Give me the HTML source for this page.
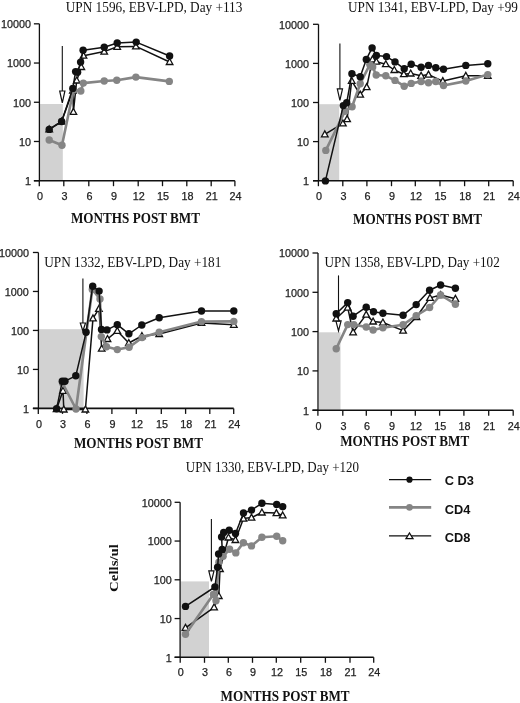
<!DOCTYPE html>
<html><head><meta charset="utf-8"><title>T-cell recovery</title>
<style>
html,body{margin:0;padding:0;background:#fff;}
body{width:520px;height:703px;overflow:hidden;font-family:"Liberation Sans",sans-serif;}
svg{display:block;will-change:transform;}
</style></head>
<body>
<svg width="520" height="703" viewBox="0 0 520 703">
<rect x="40" y="104" width="22.8" height="76.7" fill="#d2d2d2"/>
<path d="M39.4 23.82V180.7" stroke="#111" stroke-width="1.3" fill="none"/>
<path d="M33.9 180.7H234.9" stroke="#111" stroke-width="1.6" fill="none"/>
<path d="M33.9 180.7H39.4" stroke="#111" stroke-width="1.3"/>
<text x="31.1" y="185" text-anchor="end" font-family="'Liberation Sans', sans-serif" font-size="10.8" fill="#222" stroke="#222" stroke-width="0.25">1</text>
<path d="M33.9 141.48H39.4" stroke="#111" stroke-width="1.3"/>
<text x="31.1" y="145.78" text-anchor="end" font-family="'Liberation Sans', sans-serif" font-size="10.8" fill="#222" stroke="#222" stroke-width="0.25">10</text>
<path d="M33.9 102.26H39.4" stroke="#111" stroke-width="1.3"/>
<text x="31.1" y="106.56" text-anchor="end" font-family="'Liberation Sans', sans-serif" font-size="10.8" fill="#222" stroke="#222" stroke-width="0.25">100</text>
<path d="M33.9 63.04H39.4" stroke="#111" stroke-width="1.3"/>
<text x="31.1" y="67.34" text-anchor="end" font-family="'Liberation Sans', sans-serif" font-size="10.8" fill="#222" stroke="#222" stroke-width="0.25">1000</text>
<path d="M33.9 23.82H39.4" stroke="#111" stroke-width="1.3"/>
<text x="31.1" y="28.12" text-anchor="end" font-family="'Liberation Sans', sans-serif" font-size="10.8" fill="#222" stroke="#222" stroke-width="0.25">10000</text>
<path d="M39.3 180.7V186.2" stroke="#111" stroke-width="1.3"/>
<text x="39.9" y="199.9" text-anchor="middle" font-family="'Liberation Sans', sans-serif" font-size="10.8" fill="#222" stroke="#222" stroke-width="0.25">0</text>
<path d="M63.8 180.7V186.2" stroke="#111" stroke-width="1.3"/>
<text x="64.4" y="199.9" text-anchor="middle" font-family="'Liberation Sans', sans-serif" font-size="10.8" fill="#222" stroke="#222" stroke-width="0.25">3</text>
<path d="M88.8 180.7V186.2" stroke="#111" stroke-width="1.3"/>
<text x="89.4" y="199.9" text-anchor="middle" font-family="'Liberation Sans', sans-serif" font-size="10.8" fill="#222" stroke="#222" stroke-width="0.25">6</text>
<path d="M113.5 180.7V186.2" stroke="#111" stroke-width="1.3"/>
<text x="114.1" y="199.9" text-anchor="middle" font-family="'Liberation Sans', sans-serif" font-size="10.8" fill="#222" stroke="#222" stroke-width="0.25">9</text>
<path d="M138.2 180.7V186.2" stroke="#111" stroke-width="1.3"/>
<text x="138.8" y="199.9" text-anchor="middle" font-family="'Liberation Sans', sans-serif" font-size="10.8" fill="#222" stroke="#222" stroke-width="0.25">12</text>
<path d="M162.5 180.7V186.2" stroke="#111" stroke-width="1.3"/>
<text x="163.1" y="199.9" text-anchor="middle" font-family="'Liberation Sans', sans-serif" font-size="10.8" fill="#222" stroke="#222" stroke-width="0.25">15</text>
<path d="M186.8 180.7V186.2" stroke="#111" stroke-width="1.3"/>
<text x="187.4" y="199.9" text-anchor="middle" font-family="'Liberation Sans', sans-serif" font-size="10.8" fill="#222" stroke="#222" stroke-width="0.25">18</text>
<path d="M211.2 180.7V186.2" stroke="#111" stroke-width="1.3"/>
<text x="211.8" y="199.9" text-anchor="middle" font-family="'Liberation Sans', sans-serif" font-size="10.8" fill="#222" stroke="#222" stroke-width="0.25">21</text>
<path d="M234.9 180.7V186.2" stroke="#111" stroke-width="1.3"/>
<text x="235.5" y="199.9" text-anchor="middle" font-family="'Liberation Sans', sans-serif" font-size="10.8" fill="#222" stroke="#222" stroke-width="0.25">24</text>
<path d="M62.3 46V92" stroke="#111" stroke-width="1.1"/>
<polygon points="59.7,91 64.9,91 62.3,102.8" fill="#fff" stroke="#111" stroke-width="1.2"/>
<text transform="translate(65.8 11.7) scale(0.9686 1)" font-family="'Liberation Serif', serif" font-size="13.7" fill="#111">UPN 1596, EBV-LPD, Day +113</text>
<text transform="translate(70.9 222.7) scale(0.94 1)" font-family="'Liberation Serif', serif" font-size="14" font-weight="bold" fill="#111">MONTHS POST BMT</text>
<polyline points="49.2,129.4 61.6,121.5 72.9,90.5 73.4,111.9 76.7,80.5 81.3,67 83.5,55.7 104.2,51.6 117.2,46.8 135.9,46.4 169.6,62" fill="none" stroke="#111" stroke-width="1.5" stroke-linejoin="round"/>
<polygon points="49.2,125.95 52.5,131.89 45.9,131.89" fill="#fff" stroke="#111" stroke-width="1.3" stroke-linejoin="miter"/>
<polygon points="61.6,118.05 64.9,123.99 58.3,123.99" fill="#fff" stroke="#111" stroke-width="1.3" stroke-linejoin="miter"/>
<polygon points="72.9,87.05 76.2,92.99 69.6,92.99" fill="#fff" stroke="#111" stroke-width="1.3" stroke-linejoin="miter"/>
<polygon points="73.4,108.45 76.7,114.39 70.1,114.39" fill="#fff" stroke="#111" stroke-width="1.3" stroke-linejoin="miter"/>
<polygon points="76.7,77.05 80,82.99 73.4,82.99" fill="#fff" stroke="#111" stroke-width="1.3" stroke-linejoin="miter"/>
<polygon points="81.3,63.55 84.6,69.49 78,69.49" fill="#fff" stroke="#111" stroke-width="1.3" stroke-linejoin="miter"/>
<polygon points="83.5,52.25 86.8,58.19 80.2,58.19" fill="#fff" stroke="#111" stroke-width="1.3" stroke-linejoin="miter"/>
<polygon points="104.2,48.15 107.5,54.09 100.9,54.09" fill="#fff" stroke="#111" stroke-width="1.3" stroke-linejoin="miter"/>
<polygon points="117.2,43.35 120.5,49.29 113.9,49.29" fill="#fff" stroke="#111" stroke-width="1.3" stroke-linejoin="miter"/>
<polygon points="135.9,42.95 139.2,48.89 132.6,48.89" fill="#fff" stroke="#111" stroke-width="1.3" stroke-linejoin="miter"/>
<polygon points="169.6,58.55 172.9,64.49 166.3,64.49" fill="#fff" stroke="#111" stroke-width="1.3" stroke-linejoin="miter"/>
<polyline points="49.2,140 62,145.2 73.5,90 80.8,91 83.3,83.1 104.2,81 116.8,80.2 135.9,77.1 169.3,81.4" fill="none" stroke="#858585" stroke-width="2.6" stroke-linejoin="round"/>
<circle cx="49.2" cy="140" r="3.7" fill="#858585"/>
<circle cx="62" cy="145.2" r="3.7" fill="#858585"/>
<circle cx="73.5" cy="90" r="3.7" fill="#858585"/>
<circle cx="80.8" cy="91" r="3.7" fill="#858585"/>
<circle cx="83.3" cy="83.1" r="3.7" fill="#858585"/>
<circle cx="104.2" cy="81" r="3.7" fill="#858585"/>
<circle cx="116.8" cy="80.2" r="3.7" fill="#858585"/>
<circle cx="135.9" cy="77.1" r="3.7" fill="#858585"/>
<circle cx="169.3" cy="81.4" r="3.7" fill="#858585"/>
<polyline points="49.2,129.4 61.6,121.5 72.8,88.4 75.6,71.6 77.6,72.3 80.6,62.1 83.1,50.3 104.2,47.3 117.2,43 136.2,42.1 169.6,56" fill="none" stroke="#111" stroke-width="1.5" stroke-linejoin="round"/>
<circle cx="49.2" cy="129.4" r="3.7" fill="#111"/>
<circle cx="61.6" cy="121.5" r="3.7" fill="#111"/>
<circle cx="72.8" cy="88.4" r="3.7" fill="#111"/>
<circle cx="75.6" cy="71.6" r="3.7" fill="#111"/>
<circle cx="77.6" cy="72.3" r="3.7" fill="#111"/>
<circle cx="80.6" cy="62.1" r="3.7" fill="#111"/>
<circle cx="83.1" cy="50.3" r="3.7" fill="#111"/>
<circle cx="104.2" cy="47.3" r="3.7" fill="#111"/>
<circle cx="117.2" cy="43" r="3.7" fill="#111"/>
<circle cx="136.2" cy="42.1" r="3.7" fill="#111"/>
<circle cx="169.6" cy="56" r="3.7" fill="#111"/>
<rect x="319.2" y="104.2" width="20" height="76.5" fill="#d2d2d2"/>
<path d="M318.5 24.3V180.7" stroke="#111" stroke-width="1.3" fill="none"/>
<path d="M313 180.7H513.2" stroke="#111" stroke-width="1.6" fill="none"/>
<path d="M313 180.7H318.5" stroke="#111" stroke-width="1.3"/>
<text x="309" y="185" text-anchor="end" font-family="'Liberation Sans', sans-serif" font-size="10.8" fill="#222" stroke="#222" stroke-width="0.25">1</text>
<path d="M313 141.6H318.5" stroke="#111" stroke-width="1.3"/>
<text x="309" y="145.9" text-anchor="end" font-family="'Liberation Sans', sans-serif" font-size="10.8" fill="#222" stroke="#222" stroke-width="0.25">10</text>
<path d="M313 102.5H318.5" stroke="#111" stroke-width="1.3"/>
<text x="309" y="106.8" text-anchor="end" font-family="'Liberation Sans', sans-serif" font-size="10.8" fill="#222" stroke="#222" stroke-width="0.25">100</text>
<path d="M313 63.4H318.5" stroke="#111" stroke-width="1.3"/>
<text x="309" y="67.7" text-anchor="end" font-family="'Liberation Sans', sans-serif" font-size="10.8" fill="#222" stroke="#222" stroke-width="0.25">1000</text>
<path d="M313 24.3H318.5" stroke="#111" stroke-width="1.3"/>
<text x="309" y="28.6" text-anchor="end" font-family="'Liberation Sans', sans-serif" font-size="10.8" fill="#222" stroke="#222" stroke-width="0.25">10000</text>
<path d="M318.4 180.7V186.2" stroke="#111" stroke-width="1.3"/>
<text x="319" y="199.8" text-anchor="middle" font-family="'Liberation Sans', sans-serif" font-size="10.8" fill="#222" stroke="#222" stroke-width="0.25">0</text>
<path d="M342.8 180.7V186.2" stroke="#111" stroke-width="1.3"/>
<text x="343.4" y="199.8" text-anchor="middle" font-family="'Liberation Sans', sans-serif" font-size="10.8" fill="#222" stroke="#222" stroke-width="0.25">3</text>
<path d="M366.9 180.7V186.2" stroke="#111" stroke-width="1.3"/>
<text x="367.5" y="199.8" text-anchor="middle" font-family="'Liberation Sans', sans-serif" font-size="10.8" fill="#222" stroke="#222" stroke-width="0.25">6</text>
<path d="M391.5 180.7V186.2" stroke="#111" stroke-width="1.3"/>
<text x="392.1" y="199.8" text-anchor="middle" font-family="'Liberation Sans', sans-serif" font-size="10.8" fill="#222" stroke="#222" stroke-width="0.25">9</text>
<path d="M415.3 180.7V186.2" stroke="#111" stroke-width="1.3"/>
<text x="415.9" y="199.8" text-anchor="middle" font-family="'Liberation Sans', sans-serif" font-size="10.8" fill="#222" stroke="#222" stroke-width="0.25">12</text>
<path d="M440 180.7V186.2" stroke="#111" stroke-width="1.3"/>
<text x="440.6" y="199.8" text-anchor="middle" font-family="'Liberation Sans', sans-serif" font-size="10.8" fill="#222" stroke="#222" stroke-width="0.25">15</text>
<path d="M464.6 180.7V186.2" stroke="#111" stroke-width="1.3"/>
<text x="465.2" y="199.8" text-anchor="middle" font-family="'Liberation Sans', sans-serif" font-size="10.8" fill="#222" stroke="#222" stroke-width="0.25">18</text>
<path d="M488.7 180.7V186.2" stroke="#111" stroke-width="1.3"/>
<text x="489.3" y="199.8" text-anchor="middle" font-family="'Liberation Sans', sans-serif" font-size="10.8" fill="#222" stroke="#222" stroke-width="0.25">21</text>
<path d="M513.2 180.7V186.2" stroke="#111" stroke-width="1.3"/>
<text x="513.8" y="199.8" text-anchor="middle" font-family="'Liberation Sans', sans-serif" font-size="10.8" fill="#222" stroke="#222" stroke-width="0.25">24</text>
<path d="M339.9 43.6V89.9" stroke="#111" stroke-width="1.1"/>
<polygon points="337.3,88.9 342.5,88.9 339.9,100.3" fill="#fff" stroke="#111" stroke-width="1.2"/>
<text transform="translate(348 11.6) scale(0.9650 1)" font-family="'Liberation Serif', serif" font-size="13.7" fill="#111">UPN 1341, EBV-LPD, Day +99</text>
<text transform="translate(353 224) scale(0.94 1)" font-family="'Liberation Serif', serif" font-size="14" font-weight="bold" fill="#111">MONTHS POST BMT</text>
<polyline points="324.8,134.3 342.9,123.4 347.1,119.1 351.7,80.8 360.2,94.6 366.7,87.1 372.5,59.4 376.4,61.7 385.8,64.2 394.3,70 403.8,74.2 410.7,73.5 421.1,75.8 428.5,74.6 442.8,81.1 465.8,75.8 487.8,75.8" fill="none" stroke="#111" stroke-width="1.5" stroke-linejoin="round"/>
<polygon points="324.8,130.85 328.1,136.79 321.5,136.79" fill="#fff" stroke="#111" stroke-width="1.3" stroke-linejoin="miter"/>
<polygon points="342.9,119.95 346.2,125.89 339.6,125.89" fill="#fff" stroke="#111" stroke-width="1.3" stroke-linejoin="miter"/>
<polygon points="347.1,115.65 350.4,121.59 343.8,121.59" fill="#fff" stroke="#111" stroke-width="1.3" stroke-linejoin="miter"/>
<polygon points="351.7,77.35 355,83.29 348.4,83.29" fill="#fff" stroke="#111" stroke-width="1.3" stroke-linejoin="miter"/>
<polygon points="360.2,91.15 363.5,97.09 356.9,97.09" fill="#fff" stroke="#111" stroke-width="1.3" stroke-linejoin="miter"/>
<polygon points="366.7,83.65 370,89.59 363.4,89.59" fill="#fff" stroke="#111" stroke-width="1.3" stroke-linejoin="miter"/>
<polygon points="372.5,55.95 375.8,61.89 369.2,61.89" fill="#fff" stroke="#111" stroke-width="1.3" stroke-linejoin="miter"/>
<polygon points="376.4,58.25 379.7,64.19 373.1,64.19" fill="#fff" stroke="#111" stroke-width="1.3" stroke-linejoin="miter"/>
<polygon points="385.8,60.75 389.1,66.69 382.5,66.69" fill="#fff" stroke="#111" stroke-width="1.3" stroke-linejoin="miter"/>
<polygon points="394.3,66.55 397.6,72.49 391,72.49" fill="#fff" stroke="#111" stroke-width="1.3" stroke-linejoin="miter"/>
<polygon points="403.8,70.75 407.1,76.69 400.5,76.69" fill="#fff" stroke="#111" stroke-width="1.3" stroke-linejoin="miter"/>
<polygon points="410.7,70.05 414,75.99 407.4,75.99" fill="#fff" stroke="#111" stroke-width="1.3" stroke-linejoin="miter"/>
<polygon points="421.1,72.35 424.4,78.29 417.8,78.29" fill="#fff" stroke="#111" stroke-width="1.3" stroke-linejoin="miter"/>
<polygon points="428.5,71.15 431.8,77.09 425.2,77.09" fill="#fff" stroke="#111" stroke-width="1.3" stroke-linejoin="miter"/>
<polygon points="442.8,77.65 446.1,83.59 439.5,83.59" fill="#fff" stroke="#111" stroke-width="1.3" stroke-linejoin="miter"/>
<polygon points="465.8,72.35 469.1,78.29 462.5,78.29" fill="#fff" stroke="#111" stroke-width="1.3" stroke-linejoin="miter"/>
<polygon points="487.8,72.35 491.1,78.29 484.5,78.29" fill="#fff" stroke="#111" stroke-width="1.3" stroke-linejoin="miter"/>
<polyline points="325.8,150.4 345,111.3 352.1,106.8 360.2,83.7 369.8,64.6 372.7,66.9 376.2,75 385.8,75.8 395,80.4 404.2,86.2 411.2,83.4 421.1,81.5 428.5,82.7 435.8,81.5 443.5,85.5 465.8,81.1 487.8,74.6" fill="none" stroke="#858585" stroke-width="2.6" stroke-linejoin="round"/>
<circle cx="325.8" cy="150.4" r="3.7" fill="#858585"/>
<circle cx="345" cy="111.3" r="3.7" fill="#858585"/>
<circle cx="352.1" cy="106.8" r="3.7" fill="#858585"/>
<circle cx="360.2" cy="83.7" r="3.7" fill="#858585"/>
<circle cx="369.8" cy="64.6" r="3.7" fill="#858585"/>
<circle cx="372.7" cy="66.9" r="3.7" fill="#858585"/>
<circle cx="376.2" cy="75" r="3.7" fill="#858585"/>
<circle cx="385.8" cy="75.8" r="3.7" fill="#858585"/>
<circle cx="395" cy="80.4" r="3.7" fill="#858585"/>
<circle cx="404.2" cy="86.2" r="3.7" fill="#858585"/>
<circle cx="411.2" cy="83.4" r="3.7" fill="#858585"/>
<circle cx="421.1" cy="81.5" r="3.7" fill="#858585"/>
<circle cx="428.5" cy="82.7" r="3.7" fill="#858585"/>
<circle cx="435.8" cy="81.5" r="3.7" fill="#858585"/>
<circle cx="443.5" cy="85.5" r="3.7" fill="#858585"/>
<circle cx="465.8" cy="81.1" r="3.7" fill="#858585"/>
<circle cx="487.8" cy="74.6" r="3.7" fill="#858585"/>
<polyline points="325.4,180.9 343.3,105.6 346.7,102.7 351.9,73.8 360.2,76.7 366.3,59.4 372.1,47.9 376.4,55.4 386.5,56.6 395,61.9 404.2,68.8 411.2,64.2 421.1,67.2 428.5,65.4 435.8,67.7 443.5,69.3 465.8,65.4 487.8,63.8" fill="none" stroke="#111" stroke-width="1.5" stroke-linejoin="round"/>
<circle cx="325.4" cy="180.9" r="3.7" fill="#111"/>
<circle cx="343.3" cy="105.6" r="3.7" fill="#111"/>
<circle cx="346.7" cy="102.7" r="3.7" fill="#111"/>
<circle cx="351.9" cy="73.8" r="3.7" fill="#111"/>
<circle cx="360.2" cy="76.7" r="3.7" fill="#111"/>
<circle cx="366.3" cy="59.4" r="3.7" fill="#111"/>
<circle cx="372.1" cy="47.9" r="3.7" fill="#111"/>
<circle cx="376.4" cy="55.4" r="3.7" fill="#111"/>
<circle cx="386.5" cy="56.6" r="3.7" fill="#111"/>
<circle cx="395" cy="61.9" r="3.7" fill="#111"/>
<circle cx="404.2" cy="68.8" r="3.7" fill="#111"/>
<circle cx="411.2" cy="64.2" r="3.7" fill="#111"/>
<circle cx="421.1" cy="67.2" r="3.7" fill="#111"/>
<circle cx="428.5" cy="65.4" r="3.7" fill="#111"/>
<circle cx="435.8" cy="67.7" r="3.7" fill="#111"/>
<circle cx="443.5" cy="69.3" r="3.7" fill="#111"/>
<circle cx="465.8" cy="65.4" r="3.7" fill="#111"/>
<circle cx="487.8" cy="63.8" r="3.7" fill="#111"/>
<rect x="39" y="329.2" width="44.6" height="79.2" fill="#d2d2d2"/>
<path d="M38.4 252.48V408.4" stroke="#111" stroke-width="1.3" fill="none"/>
<path d="M32.9 408.4H233.7" stroke="#111" stroke-width="1.6" fill="none"/>
<path d="M32.9 408.4H38.4" stroke="#111" stroke-width="1.3"/>
<text x="28.9" y="412.7" text-anchor="end" font-family="'Liberation Sans', sans-serif" font-size="10.8" fill="#222" stroke="#222" stroke-width="0.25">1</text>
<path d="M32.9 369.42H38.4" stroke="#111" stroke-width="1.3"/>
<text x="28.9" y="373.72" text-anchor="end" font-family="'Liberation Sans', sans-serif" font-size="10.8" fill="#222" stroke="#222" stroke-width="0.25">10</text>
<path d="M32.9 330.44H38.4" stroke="#111" stroke-width="1.3"/>
<text x="28.9" y="334.74" text-anchor="end" font-family="'Liberation Sans', sans-serif" font-size="10.8" fill="#222" stroke="#222" stroke-width="0.25">100</text>
<path d="M32.9 291.46H38.4" stroke="#111" stroke-width="1.3"/>
<text x="28.9" y="295.76" text-anchor="end" font-family="'Liberation Sans', sans-serif" font-size="10.8" fill="#222" stroke="#222" stroke-width="0.25">1000</text>
<path d="M32.9 252.48H38.4" stroke="#111" stroke-width="1.3"/>
<text x="28.9" y="256.78" text-anchor="end" font-family="'Liberation Sans', sans-serif" font-size="10.8" fill="#222" stroke="#222" stroke-width="0.25">10000</text>
<path d="M38.3 408.4V413.9" stroke="#111" stroke-width="1.3"/>
<text x="38.9" y="427.8" text-anchor="middle" font-family="'Liberation Sans', sans-serif" font-size="10.8" fill="#222" stroke="#222" stroke-width="0.25">0</text>
<path d="M62.5 408.4V413.9" stroke="#111" stroke-width="1.3"/>
<text x="63.1" y="427.8" text-anchor="middle" font-family="'Liberation Sans', sans-serif" font-size="10.8" fill="#222" stroke="#222" stroke-width="0.25">3</text>
<path d="M86.9 408.4V413.9" stroke="#111" stroke-width="1.3"/>
<text x="87.5" y="427.8" text-anchor="middle" font-family="'Liberation Sans', sans-serif" font-size="10.8" fill="#222" stroke="#222" stroke-width="0.25">6</text>
<path d="M111.9 408.4V413.9" stroke="#111" stroke-width="1.3"/>
<text x="112.5" y="427.8" text-anchor="middle" font-family="'Liberation Sans', sans-serif" font-size="10.8" fill="#222" stroke="#222" stroke-width="0.25">9</text>
<path d="M136.3 408.4V413.9" stroke="#111" stroke-width="1.3"/>
<text x="136.9" y="427.8" text-anchor="middle" font-family="'Liberation Sans', sans-serif" font-size="10.8" fill="#222" stroke="#222" stroke-width="0.25">12</text>
<path d="M161.3 408.4V413.9" stroke="#111" stroke-width="1.3"/>
<text x="161.9" y="427.8" text-anchor="middle" font-family="'Liberation Sans', sans-serif" font-size="10.8" fill="#222" stroke="#222" stroke-width="0.25">15</text>
<path d="M185.6 408.4V413.9" stroke="#111" stroke-width="1.3"/>
<text x="186.2" y="427.8" text-anchor="middle" font-family="'Liberation Sans', sans-serif" font-size="10.8" fill="#222" stroke="#222" stroke-width="0.25">18</text>
<path d="M209.8 408.4V413.9" stroke="#111" stroke-width="1.3"/>
<text x="210.4" y="427.8" text-anchor="middle" font-family="'Liberation Sans', sans-serif" font-size="10.8" fill="#222" stroke="#222" stroke-width="0.25">21</text>
<path d="M233.7 408.4V413.9" stroke="#111" stroke-width="1.3"/>
<text x="234.3" y="427.8" text-anchor="middle" font-family="'Liberation Sans', sans-serif" font-size="10.8" fill="#222" stroke="#222" stroke-width="0.25">24</text>
<path d="M82.9 278.6V324" stroke="#111" stroke-width="1.1"/>
<polygon points="80.3,323 85.5,323 82.9,331" fill="#fff" stroke="#111" stroke-width="1.2"/>
<text transform="translate(44.3 267.1) scale(0.9686 1)" font-family="'Liberation Serif', serif" font-size="13.7" fill="#111">UPN 1332, EBV-LPD, Day +181</text>
<text transform="translate(73.9 448) scale(0.94 1)" font-family="'Liberation Serif', serif" font-size="14" font-weight="bold" fill="#111">MONTHS POST BMT</text>
<polyline points="56.6,409 63,390.8 63.8,409.5 85.4,409.5 93,318.4 98.9,308.9 101.7,348.7 107.5,339 117.3,330.9 128.8,343 141.9,336 159.2,334 201.5,322.9 233.8,324.8" fill="none" stroke="#111" stroke-width="1.5" stroke-linejoin="round"/>
<polygon points="56.6,405.55 59.9,411.49 53.3,411.49" fill="#fff" stroke="#111" stroke-width="1.3" stroke-linejoin="miter"/>
<polygon points="63,387.35 66.3,393.29 59.7,393.29" fill="#fff" stroke="#111" stroke-width="1.3" stroke-linejoin="miter"/>
<polygon points="63.8,406.05 67.1,411.99 60.5,411.99" fill="#fff" stroke="#111" stroke-width="1.3" stroke-linejoin="miter"/>
<polygon points="85.4,406.05 88.7,411.99 82.1,411.99" fill="#fff" stroke="#111" stroke-width="1.3" stroke-linejoin="miter"/>
<polygon points="93,314.95 96.3,320.89 89.7,320.89" fill="#fff" stroke="#111" stroke-width="1.3" stroke-linejoin="miter"/>
<polygon points="98.9,305.45 102.2,311.39 95.6,311.39" fill="#fff" stroke="#111" stroke-width="1.3" stroke-linejoin="miter"/>
<polygon points="101.7,345.25 105,351.19 98.4,351.19" fill="#fff" stroke="#111" stroke-width="1.3" stroke-linejoin="miter"/>
<polygon points="107.5,335.55 110.8,341.49 104.2,341.49" fill="#fff" stroke="#111" stroke-width="1.3" stroke-linejoin="miter"/>
<polygon points="117.3,327.45 120.6,333.39 114,333.39" fill="#fff" stroke="#111" stroke-width="1.3" stroke-linejoin="miter"/>
<polygon points="128.8,339.55 132.1,345.49 125.5,345.49" fill="#fff" stroke="#111" stroke-width="1.3" stroke-linejoin="miter"/>
<polygon points="141.9,332.55 145.2,338.49 138.6,338.49" fill="#fff" stroke="#111" stroke-width="1.3" stroke-linejoin="miter"/>
<polygon points="159.2,330.55 162.5,336.49 155.9,336.49" fill="#fff" stroke="#111" stroke-width="1.3" stroke-linejoin="miter"/>
<polygon points="201.5,319.45 204.8,325.39 198.2,325.39" fill="#fff" stroke="#111" stroke-width="1.3" stroke-linejoin="miter"/>
<polygon points="233.8,321.35 237.1,327.29 230.5,327.29" fill="#fff" stroke="#111" stroke-width="1.3" stroke-linejoin="miter"/>
<polyline points="62.5,383 76,409 92.3,289.5 100,299 101.3,336.6 106.5,346.7 117.3,349.6 129.1,347.2 142.1,337.6 159.2,332.3 201.5,321.6 233.8,321.4" fill="none" stroke="#858585" stroke-width="2.6" stroke-linejoin="round"/>
<circle cx="62.5" cy="383" r="3.7" fill="#858585"/>
<circle cx="76" cy="409" r="3.7" fill="#858585"/>
<circle cx="92.3" cy="289.5" r="3.7" fill="#858585"/>
<circle cx="100" cy="299" r="3.7" fill="#858585"/>
<circle cx="101.3" cy="336.6" r="3.7" fill="#858585"/>
<circle cx="106.5" cy="346.7" r="3.7" fill="#858585"/>
<circle cx="117.3" cy="349.6" r="3.7" fill="#858585"/>
<circle cx="129.1" cy="347.2" r="3.7" fill="#858585"/>
<circle cx="142.1" cy="337.6" r="3.7" fill="#858585"/>
<circle cx="159.2" cy="332.3" r="3.7" fill="#858585"/>
<circle cx="201.5" cy="321.6" r="3.7" fill="#858585"/>
<circle cx="233.8" cy="321.4" r="3.7" fill="#858585"/>
<polyline points="56.6,408.8 62.3,381.2 65,381.2 75.8,375.8 86.1,332.3 92.7,286.2 99.1,291.1 101.5,329.4 107,329.9 117.3,324.7 128.9,333.8 141.8,325 159.2,317.8 201.5,311 233.8,311" fill="none" stroke="#111" stroke-width="1.5" stroke-linejoin="round"/>
<circle cx="56.6" cy="408.8" r="3.7" fill="#111"/>
<circle cx="62.3" cy="381.2" r="3.7" fill="#111"/>
<circle cx="65" cy="381.2" r="3.7" fill="#111"/>
<circle cx="75.8" cy="375.8" r="3.7" fill="#111"/>
<circle cx="86.1" cy="332.3" r="3.7" fill="#111"/>
<circle cx="92.7" cy="286.2" r="3.7" fill="#111"/>
<circle cx="99.1" cy="291.1" r="3.7" fill="#111"/>
<circle cx="101.5" cy="329.4" r="3.7" fill="#111"/>
<circle cx="107" cy="329.9" r="3.7" fill="#111"/>
<circle cx="117.3" cy="324.7" r="3.7" fill="#111"/>
<circle cx="128.9" cy="333.8" r="3.7" fill="#111"/>
<circle cx="141.8" cy="325" r="3.7" fill="#111"/>
<circle cx="159.2" cy="317.8" r="3.7" fill="#111"/>
<circle cx="201.5" cy="311" r="3.7" fill="#111"/>
<circle cx="233.8" cy="311" r="3.7" fill="#111"/>
<rect x="319" y="332.3" width="21.5" height="77.9" fill="#d2d2d2"/>
<path d="M318 253V410.2" stroke="#111" stroke-width="1.3" fill="none"/>
<path d="M312.5 410.2H513.2" stroke="#111" stroke-width="1.6" fill="none"/>
<path d="M312.5 410.2H318" stroke="#111" stroke-width="1.3"/>
<text x="309" y="414.5" text-anchor="end" font-family="'Liberation Sans', sans-serif" font-size="10.8" fill="#222" stroke="#222" stroke-width="0.25">1</text>
<path d="M312.5 370.9H318" stroke="#111" stroke-width="1.3"/>
<text x="309" y="375.2" text-anchor="end" font-family="'Liberation Sans', sans-serif" font-size="10.8" fill="#222" stroke="#222" stroke-width="0.25">10</text>
<path d="M312.5 331.6H318" stroke="#111" stroke-width="1.3"/>
<text x="309" y="335.9" text-anchor="end" font-family="'Liberation Sans', sans-serif" font-size="10.8" fill="#222" stroke="#222" stroke-width="0.25">100</text>
<path d="M312.5 292.3H318" stroke="#111" stroke-width="1.3"/>
<text x="309" y="296.6" text-anchor="end" font-family="'Liberation Sans', sans-serif" font-size="10.8" fill="#222" stroke="#222" stroke-width="0.25">1000</text>
<path d="M312.5 253H318" stroke="#111" stroke-width="1.3"/>
<text x="309" y="257.3" text-anchor="end" font-family="'Liberation Sans', sans-serif" font-size="10.8" fill="#222" stroke="#222" stroke-width="0.25">10000</text>
<path d="M317.9 410.2V415.7" stroke="#111" stroke-width="1.3"/>
<text x="318.5" y="429.6" text-anchor="middle" font-family="'Liberation Sans', sans-serif" font-size="10.8" fill="#222" stroke="#222" stroke-width="0.25">0</text>
<path d="M342.8 410.2V415.7" stroke="#111" stroke-width="1.3"/>
<text x="343.4" y="429.6" text-anchor="middle" font-family="'Liberation Sans', sans-serif" font-size="10.8" fill="#222" stroke="#222" stroke-width="0.25">3</text>
<path d="M366.3 410.2V415.7" stroke="#111" stroke-width="1.3"/>
<text x="366.9" y="429.6" text-anchor="middle" font-family="'Liberation Sans', sans-serif" font-size="10.8" fill="#222" stroke="#222" stroke-width="0.25">6</text>
<path d="M391.3 410.2V415.7" stroke="#111" stroke-width="1.3"/>
<text x="391.9" y="429.6" text-anchor="middle" font-family="'Liberation Sans', sans-serif" font-size="10.8" fill="#222" stroke="#222" stroke-width="0.25">9</text>
<path d="M415.3 410.2V415.7" stroke="#111" stroke-width="1.3"/>
<text x="415.9" y="429.6" text-anchor="middle" font-family="'Liberation Sans', sans-serif" font-size="10.8" fill="#222" stroke="#222" stroke-width="0.25">12</text>
<path d="M439.6 410.2V415.7" stroke="#111" stroke-width="1.3"/>
<text x="440.2" y="429.6" text-anchor="middle" font-family="'Liberation Sans', sans-serif" font-size="10.8" fill="#222" stroke="#222" stroke-width="0.25">15</text>
<path d="M463.9 410.2V415.7" stroke="#111" stroke-width="1.3"/>
<text x="464.5" y="429.6" text-anchor="middle" font-family="'Liberation Sans', sans-serif" font-size="10.8" fill="#222" stroke="#222" stroke-width="0.25">18</text>
<path d="M488.7 410.2V415.7" stroke="#111" stroke-width="1.3"/>
<text x="489.3" y="429.6" text-anchor="middle" font-family="'Liberation Sans', sans-serif" font-size="10.8" fill="#222" stroke="#222" stroke-width="0.25">21</text>
<path d="M513.2 410.2V415.7" stroke="#111" stroke-width="1.3"/>
<text x="513.8" y="429.6" text-anchor="middle" font-family="'Liberation Sans', sans-serif" font-size="10.8" fill="#222" stroke="#222" stroke-width="0.25">24</text>
<path d="M338.5 275.4V321.8" stroke="#111" stroke-width="1.1"/>
<polygon points="335.9,320.8 341.1,320.8 338.5,330.8" fill="#fff" stroke="#111" stroke-width="1.2"/>
<text transform="translate(324.4 266.7) scale(0.9591 1)" font-family="'Liberation Serif', serif" font-size="13.7" fill="#111">UPN 1358, EBV-LPD, Day +102</text>
<text transform="translate(340.2 446) scale(0.94 1)" font-family="'Liberation Serif', serif" font-size="14" font-weight="bold" fill="#111">MONTHS POST BMT</text>
<polyline points="336.2,318.5 347.7,307.7 353.1,332.3 366.2,314.6 373.1,321.5 382.9,322.5 403.1,330.6 416.5,317 430,297.9 440.6,295 455.4,298.8" fill="none" stroke="#111" stroke-width="1.5" stroke-linejoin="round"/>
<polygon points="336.2,315.05 339.5,320.99 332.9,320.99" fill="#fff" stroke="#111" stroke-width="1.3" stroke-linejoin="miter"/>
<polygon points="347.7,304.25 351,310.19 344.4,310.19" fill="#fff" stroke="#111" stroke-width="1.3" stroke-linejoin="miter"/>
<polygon points="353.1,328.85 356.4,334.79 349.8,334.79" fill="#fff" stroke="#111" stroke-width="1.3" stroke-linejoin="miter"/>
<polygon points="366.2,311.15 369.5,317.09 362.9,317.09" fill="#fff" stroke="#111" stroke-width="1.3" stroke-linejoin="miter"/>
<polygon points="373.1,318.05 376.4,323.99 369.8,323.99" fill="#fff" stroke="#111" stroke-width="1.3" stroke-linejoin="miter"/>
<polygon points="382.9,319.05 386.2,324.99 379.6,324.99" fill="#fff" stroke="#111" stroke-width="1.3" stroke-linejoin="miter"/>
<polygon points="403.1,327.15 406.4,333.09 399.8,333.09" fill="#fff" stroke="#111" stroke-width="1.3" stroke-linejoin="miter"/>
<polygon points="416.5,313.55 419.8,319.49 413.2,319.49" fill="#fff" stroke="#111" stroke-width="1.3" stroke-linejoin="miter"/>
<polygon points="430,294.45 433.3,300.39 426.7,300.39" fill="#fff" stroke="#111" stroke-width="1.3" stroke-linejoin="miter"/>
<polygon points="440.6,291.55 443.9,297.49 437.3,297.49" fill="#fff" stroke="#111" stroke-width="1.3" stroke-linejoin="miter"/>
<polygon points="455.4,295.35 458.7,301.29 452.1,301.29" fill="#fff" stroke="#111" stroke-width="1.3" stroke-linejoin="miter"/>
<polyline points="336.2,348.8 347.7,324.6 353.8,324.6 366.2,327 373.1,330 382.9,327.7 403.1,324.8 416.2,315.6 429.6,307.5 440.6,295 455.4,304.2" fill="none" stroke="#858585" stroke-width="2.6" stroke-linejoin="round"/>
<circle cx="336.2" cy="348.8" r="3.7" fill="#858585"/>
<circle cx="347.7" cy="324.6" r="3.7" fill="#858585"/>
<circle cx="353.8" cy="324.6" r="3.7" fill="#858585"/>
<circle cx="366.2" cy="327" r="3.7" fill="#858585"/>
<circle cx="373.1" cy="330" r="3.7" fill="#858585"/>
<circle cx="382.9" cy="327.7" r="3.7" fill="#858585"/>
<circle cx="403.1" cy="324.8" r="3.7" fill="#858585"/>
<circle cx="416.2" cy="315.6" r="3.7" fill="#858585"/>
<circle cx="429.6" cy="307.5" r="3.7" fill="#858585"/>
<circle cx="440.6" cy="295" r="3.7" fill="#858585"/>
<circle cx="455.4" cy="304.2" r="3.7" fill="#858585"/>
<polyline points="336.2,313.8 347.7,302.6 353.1,316.2 366.2,307.2 373.5,311.8 382.9,313.3 403.1,315.2 416.2,304.6 429.6,290.2 440.6,285 455.4,288.3" fill="none" stroke="#111" stroke-width="1.5" stroke-linejoin="round"/>
<circle cx="336.2" cy="313.8" r="3.7" fill="#111"/>
<circle cx="347.7" cy="302.6" r="3.7" fill="#111"/>
<circle cx="353.1" cy="316.2" r="3.7" fill="#111"/>
<circle cx="366.2" cy="307.2" r="3.7" fill="#111"/>
<circle cx="373.5" cy="311.8" r="3.7" fill="#111"/>
<circle cx="382.9" cy="313.3" r="3.7" fill="#111"/>
<circle cx="403.1" cy="315.2" r="3.7" fill="#111"/>
<circle cx="416.2" cy="304.6" r="3.7" fill="#111"/>
<circle cx="429.6" cy="290.2" r="3.7" fill="#111"/>
<circle cx="440.6" cy="285" r="3.7" fill="#111"/>
<circle cx="455.4" cy="288.3" r="3.7" fill="#111"/>
<rect x="180.6" y="581.4" width="28.4" height="75.9" fill="#d2d2d2"/>
<path d="M180.1 502.3V657.3" stroke="#111" stroke-width="1.3" fill="none"/>
<path d="M174.6 657.3H373.7" stroke="#111" stroke-width="1.6" fill="none"/>
<path d="M174.6 657.3H180.1" stroke="#111" stroke-width="1.3"/>
<text x="171.7" y="661.6" text-anchor="end" font-family="'Liberation Sans', sans-serif" font-size="10.8" fill="#222" stroke="#222" stroke-width="0.25">1</text>
<path d="M174.6 618.55H180.1" stroke="#111" stroke-width="1.3"/>
<text x="171.7" y="622.85" text-anchor="end" font-family="'Liberation Sans', sans-serif" font-size="10.8" fill="#222" stroke="#222" stroke-width="0.25">10</text>
<path d="M174.6 579.8H180.1" stroke="#111" stroke-width="1.3"/>
<text x="171.7" y="584.1" text-anchor="end" font-family="'Liberation Sans', sans-serif" font-size="10.8" fill="#222" stroke="#222" stroke-width="0.25">100</text>
<path d="M174.6 541.05H180.1" stroke="#111" stroke-width="1.3"/>
<text x="171.7" y="545.35" text-anchor="end" font-family="'Liberation Sans', sans-serif" font-size="10.8" fill="#222" stroke="#222" stroke-width="0.25">1000</text>
<path d="M174.6 502.3H180.1" stroke="#111" stroke-width="1.3"/>
<text x="171.7" y="506.6" text-anchor="end" font-family="'Liberation Sans', sans-serif" font-size="10.8" fill="#222" stroke="#222" stroke-width="0.25">10000</text>
<path d="M180.2 657.3V662.8" stroke="#111" stroke-width="1.3"/>
<text x="180.8" y="676.1" text-anchor="middle" font-family="'Liberation Sans', sans-serif" font-size="10.8" fill="#222" stroke="#222" stroke-width="0.25">0</text>
<path d="M204.5 657.3V662.8" stroke="#111" stroke-width="1.3"/>
<text x="205.1" y="676.1" text-anchor="middle" font-family="'Liberation Sans', sans-serif" font-size="10.8" fill="#222" stroke="#222" stroke-width="0.25">3</text>
<path d="M228.3 657.3V662.8" stroke="#111" stroke-width="1.3"/>
<text x="228.9" y="676.1" text-anchor="middle" font-family="'Liberation Sans', sans-serif" font-size="10.8" fill="#222" stroke="#222" stroke-width="0.25">6</text>
<path d="M252.5 657.3V662.8" stroke="#111" stroke-width="1.3"/>
<text x="253.1" y="676.1" text-anchor="middle" font-family="'Liberation Sans', sans-serif" font-size="10.8" fill="#222" stroke="#222" stroke-width="0.25">9</text>
<path d="M276.3 657.3V662.8" stroke="#111" stroke-width="1.3"/>
<text x="276.9" y="676.1" text-anchor="middle" font-family="'Liberation Sans', sans-serif" font-size="10.8" fill="#222" stroke="#222" stroke-width="0.25">12</text>
<path d="M300.7 657.3V662.8" stroke="#111" stroke-width="1.3"/>
<text x="301.3" y="676.1" text-anchor="middle" font-family="'Liberation Sans', sans-serif" font-size="10.8" fill="#222" stroke="#222" stroke-width="0.25">15</text>
<path d="M325.4 657.3V662.8" stroke="#111" stroke-width="1.3"/>
<text x="326" y="676.1" text-anchor="middle" font-family="'Liberation Sans', sans-serif" font-size="10.8" fill="#222" stroke="#222" stroke-width="0.25">18</text>
<path d="M350 657.3V662.8" stroke="#111" stroke-width="1.3"/>
<text x="350.6" y="676.1" text-anchor="middle" font-family="'Liberation Sans', sans-serif" font-size="10.8" fill="#222" stroke="#222" stroke-width="0.25">21</text>
<path d="M373.7 657.3V662.8" stroke="#111" stroke-width="1.3"/>
<text x="374.3" y="676.1" text-anchor="middle" font-family="'Liberation Sans', sans-serif" font-size="10.8" fill="#222" stroke="#222" stroke-width="0.25">24</text>
<path d="M211.4 519V571.8" stroke="#111" stroke-width="1.1"/>
<polygon points="208.8,570.8 214,570.8 211.4,581.4" fill="#fff" stroke="#111" stroke-width="1.2"/>
<text transform="translate(185.8 472.1) scale(0.9467 1)" font-family="'Liberation Serif', serif" font-size="13.7" fill="#111">UPN 1330, EBV-LPD, Day +120</text>
<text transform="translate(220.5 701.3) scale(0.94 1)" font-family="'Liberation Serif', serif" font-size="14" font-weight="bold" fill="#111">MONTHS POST BMT</text>
<polyline points="185.5,627.8 214.1,607.3 218.8,596 220,569 228.5,537.5 235.4,540 243.5,518.6 251.5,517.6 261.9,512.5 276.4,513.1 282.7,515.4" fill="none" stroke="#111" stroke-width="1.5" stroke-linejoin="round"/>
<polygon points="185.5,624.35 188.8,630.29 182.2,630.29" fill="#fff" stroke="#111" stroke-width="1.3" stroke-linejoin="miter"/>
<polygon points="214.1,603.85 217.4,609.79 210.8,609.79" fill="#fff" stroke="#111" stroke-width="1.3" stroke-linejoin="miter"/>
<polygon points="218.8,592.55 222.1,598.49 215.5,598.49" fill="#fff" stroke="#111" stroke-width="1.3" stroke-linejoin="miter"/>
<polygon points="220,565.55 223.3,571.49 216.7,571.49" fill="#fff" stroke="#111" stroke-width="1.3" stroke-linejoin="miter"/>
<polygon points="228.5,534.05 231.8,539.99 225.2,539.99" fill="#fff" stroke="#111" stroke-width="1.3" stroke-linejoin="miter"/>
<polygon points="235.4,536.55 238.7,542.49 232.1,542.49" fill="#fff" stroke="#111" stroke-width="1.3" stroke-linejoin="miter"/>
<polygon points="243.5,515.15 246.8,521.09 240.2,521.09" fill="#fff" stroke="#111" stroke-width="1.3" stroke-linejoin="miter"/>
<polygon points="251.5,514.15 254.8,520.09 248.2,520.09" fill="#fff" stroke="#111" stroke-width="1.3" stroke-linejoin="miter"/>
<polygon points="261.9,509.05 265.2,514.99 258.6,514.99" fill="#fff" stroke="#111" stroke-width="1.3" stroke-linejoin="miter"/>
<polygon points="276.4,509.65 279.7,515.59 273.1,515.59" fill="#fff" stroke="#111" stroke-width="1.3" stroke-linejoin="miter"/>
<polygon points="282.7,511.95 286,517.89 279.4,517.89" fill="#fff" stroke="#111" stroke-width="1.3" stroke-linejoin="miter"/>
<polyline points="185.5,634.3 213.3,594.4 216,600.7 218.9,562.3 223.1,556.3 229.6,549.3 235.8,552.9 243.4,542.8 251.5,545.9 261.9,537.3 276.7,536.2 282.7,540.8" fill="none" stroke="#858585" stroke-width="2.6" stroke-linejoin="round"/>
<circle cx="185.5" cy="634.3" r="3.7" fill="#858585"/>
<circle cx="213.3" cy="594.4" r="3.7" fill="#858585"/>
<circle cx="216" cy="600.7" r="3.7" fill="#858585"/>
<circle cx="218.9" cy="562.3" r="3.7" fill="#858585"/>
<circle cx="223.1" cy="556.3" r="3.7" fill="#858585"/>
<circle cx="229.6" cy="549.3" r="3.7" fill="#858585"/>
<circle cx="235.8" cy="552.9" r="3.7" fill="#858585"/>
<circle cx="243.4" cy="542.8" r="3.7" fill="#858585"/>
<circle cx="251.5" cy="545.9" r="3.7" fill="#858585"/>
<circle cx="261.9" cy="537.3" r="3.7" fill="#858585"/>
<circle cx="276.7" cy="536.2" r="3.7" fill="#858585"/>
<circle cx="282.7" cy="540.8" r="3.7" fill="#858585"/>
<polyline points="185.5,606.4 214.9,587 217.6,567.3 218.6,554 222.2,549.4 221.6,536.9 223.7,532.5 229.2,530.2 235.5,533.5 243.5,513 251.5,510.1 261.9,503.3 276.7,504.4 282.7,506.7" fill="none" stroke="#111" stroke-width="1.5" stroke-linejoin="round"/>
<circle cx="185.5" cy="606.4" r="3.7" fill="#111"/>
<circle cx="214.9" cy="587" r="3.7" fill="#111"/>
<circle cx="217.6" cy="567.3" r="3.7" fill="#111"/>
<circle cx="218.6" cy="554" r="3.7" fill="#111"/>
<circle cx="222.2" cy="549.4" r="3.7" fill="#111"/>
<circle cx="221.6" cy="536.9" r="3.7" fill="#111"/>
<circle cx="223.7" cy="532.5" r="3.7" fill="#111"/>
<circle cx="229.2" cy="530.2" r="3.7" fill="#111"/>
<circle cx="235.5" cy="533.5" r="3.7" fill="#111"/>
<circle cx="243.5" cy="513" r="3.7" fill="#111"/>
<circle cx="251.5" cy="510.1" r="3.7" fill="#111"/>
<circle cx="261.9" cy="503.3" r="3.7" fill="#111"/>
<circle cx="276.7" cy="504.4" r="3.7" fill="#111"/>
<circle cx="282.7" cy="506.7" r="3.7" fill="#111"/>
<path d="M389 479.7H431.2" stroke="#111" stroke-width="1.3"/>
<circle cx="409.5" cy="479.7" r="3.1" fill="#111"/>
<path d="M389 507.4H431.2" stroke="#858585" stroke-width="2.8"/>
<circle cx="409.5" cy="507.4" r="3.3" fill="#858585"/>
<path d="M389 535.8H431.2" stroke="#111" stroke-width="1.3"/>
<polygon points="409.5,533 413,538.6 406,538.6" fill="#fff" stroke="#111" stroke-width="1.3"/>
<text x="444.7" y="485.3" font-family="'Liberation Sans', sans-serif" font-size="12.8" font-weight="bold" fill="#111">C D3</text>
<text x="444.7" y="513.7" font-family="'Liberation Sans', sans-serif" font-size="12.8" font-weight="bold" fill="#111">CD4</text>
<text x="444.7" y="541.8" font-family="'Liberation Sans', sans-serif" font-size="12.8" font-weight="bold" fill="#111">CD8</text>
<text transform="translate(118.4 591.9) rotate(-90) scale(1.11 1)" font-family="'Liberation Serif', serif" font-size="13.4" font-weight="bold" fill="#111">Cells/ul</text>
</svg>
</body></html>
